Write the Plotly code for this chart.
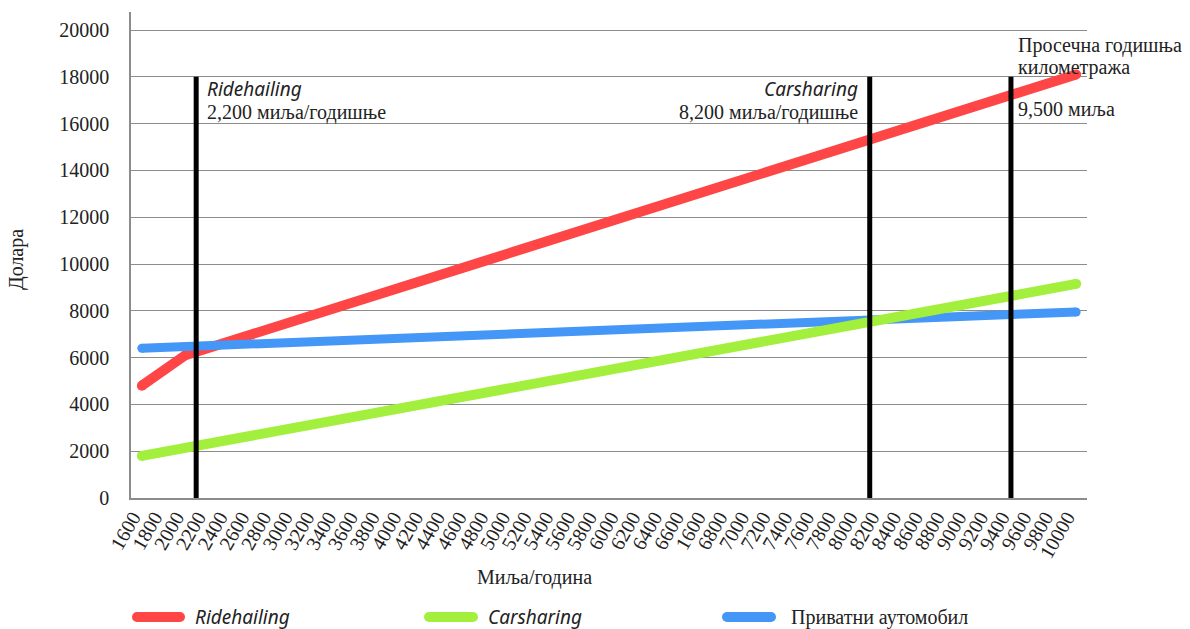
import numpy as np
import plotly.graph_objects as go

W, H = 1190, 629

# Category labels along the mileage axis (as printed, including the stray "1600")
x_labels = ["1600", "1800", "2000", "2200", "2400", "2600", "2800", "3000", "3200", "3400",
            "3600", "3800", "4000", "4200", "4400", "4600", "4800", "5000", "5200", "5400",
            "5600", "5800", "6000", "6200", "6400", "6600", "1600", "6800", "7000", "7200",
            "7400", "7600", "7800", "8000", "8200", "8400", "8600", "8800", "9000", "9200",
            "9400", "9600", "9800", "10000"]

y_ticks = [0, 2000, 4000, 6000, 8000, 10000, 12000, 14000, 16000, 18000, 20000]

# Annual cost (dollars) against miles per year
ridehailing_miles = [1600, 2000, 10000]
ridehailing_cost = [4800, 6100, 18100]

carsharing_miles = [1600, 10000]
carsharing_cost = [1800, 9150]

private_miles = [1600, 10000]
private_cost = [6400, 7950]

# Break-even / reference mileages and the height of their markers
marker_miles = [2200, 8200, 9500]
marker_top = 18000

RED, GREEN, BLUE = "#FF4646", "#A3EF3E", "#4497F6"
SERIF = "Liberation Serif"
SANS = "Noto Sans"
TXT = "#222222"
GRID = "#8C8C8C"


def build_axis_map(labels):
    miles, pos = [], []
    for i, lab in enumerate(labels):
        v = int(lab)
        if miles and v <= miles[-1]:
            continue  # mislabeled slot keeps its place but not its value
        miles.append(v)
        pos.append(i)
    return miles, pos


axis_miles, axis_pos = build_axis_map(x_labels)


def to_pos(m):
    return np.interp(m, axis_miles, axis_pos)


fig = go.Figure()

for miles, cost, color, lw in [
    (ridehailing_miles, ridehailing_cost, RED, 10),
    (private_miles, private_cost, BLUE, 9),
    (carsharing_miles, carsharing_cost, GREEN, 10),
]:
    fig.add_trace(go.Scatter(
        x=to_pos(miles), y=cost, mode="lines+markers",
        line=dict(color=color, width=lw),
        marker=dict(color=color, size=lw, line=dict(width=0)),
        showlegend=False, hoverinfo="skip", cliponaxis=False,
    ))

# Vertical markers sit on the category boundary left of their mileage
for m in marker_miles:
    xp = float(to_pos(m)) - 0.5
    fig.add_trace(go.Scatter(
        x=[xp, xp], y=[0, marker_top], mode="lines",
        line=dict(color="black", width=5),
        showlegend=False, hoverinfo="skip",
    ))

# Legend drawn on a full-figure pixel axis
legend_items = [
    ("Ridehailing", RED, 137, 180, 193, True),
    ("Carsharing", GREEN, 429, 473, 486, True),
    ("Приватни аутомобил", BLUE, 727, 771, 789, False),
]
LEG_Y = 617
annotations = []
for name, color, x0, x1, tx, italic in legend_items:
    fig.add_trace(go.Scatter(
        x=[x0, x1], y=[LEG_Y, LEG_Y], mode="lines+markers",
        line=dict(color=color, width=10),
        marker=dict(color=color, size=10, line=dict(width=0)),
        xaxis="x3", yaxis="y3", showlegend=False, hoverinfo="skip", cliponaxis=False,
    ))
    annotations.append(dict(
        x=tx, y=LEG_Y, xref="x3", yref="y3", xanchor="left", yanchor="middle",
        text=f"<i>{name}</i>" if italic else name, showarrow=False,
        font=dict(family=SANS if italic else SERIF, size=19 if italic else 20, color=TXT),
    ))


def label(text, x, y, anchor="left", italic=False):
    annotations.append(dict(
        x=x, y=y, xref="x3", yref="y3", xanchor=anchor, yanchor="middle",
        text=f"<i>{text}</i>" if italic else text, showarrow=False,
        font=dict(family=SANS if italic else SERIF, size=19 if italic else 20, color=TXT),
    ))


label("Ridehailing", 205, 89, italic=True)
label("2,200 миља/годишње", 205, 112)
label("Carsharing", 860, 89, anchor="right", italic=True)
label("8,200 миља/годишње", 860, 112, anchor="right")
label("Просечна годишња", 1016, 45)
label("километража", 1016, 67)
label("9,500 миља", 1016, 109)
label("Миља/година", 534, 577, anchor="center")
annotations.append(dict(
    x=16, y=260, xref="x3", yref="y3", xanchor="center", yanchor="middle",
    text="Долара", textangle=-90, showarrow=False,
    font=dict(family=SERIF, size=20, color=TXT),
))

PLOT_L, PLOT_R, PLOT_T, PLOT_B = 131, 1087, 12, 498
y_max = 20770

fig.update_layout(
    width=W, height=H,
    margin=dict(l=0, r=0, t=0, b=0, autoexpand=False),
    paper_bgcolor="white", plot_bgcolor="rgba(0,0,0,0)",
    showlegend=False,
    annotations=annotations,
    xaxis=dict(
        domain=[PLOT_L / W, PLOT_R / W], range=[-0.5, len(x_labels) - 0.5],
        tickvals=list(range(len(x_labels))), ticktext=x_labels,
        tickangle=-60, tickfont=dict(family=SERIF, size=20, color=TXT),
        ticklabelshift=-9, ticklabelstandoff=-2,
        showgrid=False, zeroline=False, showline=True, linecolor=GRID, linewidth=1.5,
        ticks="", fixedrange=True, automargin=False,
    ),
    yaxis=dict(
        domain=[(H - PLOT_B) / H, (H - PLOT_T) / H], range=[0, y_max],
        tickvals=y_ticks, ticktext=[str(v) for v in y_ticks],
        tickfont=dict(family=SERIF, size=20, color=TXT),
        showgrid=True, gridcolor=GRID, gridwidth=1,
        zeroline=False, showline=True, linecolor=GRID, linewidth=1.5,
        ticks="", ticklabelstandoff=16, fixedrange=True, automargin=False,
    ),
    xaxis3=dict(domain=[0, 1], range=[0, W], visible=False, anchor="y3",
                fixedrange=True, automargin=False),
    yaxis3=dict(domain=[0, 1], range=[H, 0], visible=False, anchor="x3",
                fixedrange=True, automargin=False),
)

fig.write_html("out.html")
